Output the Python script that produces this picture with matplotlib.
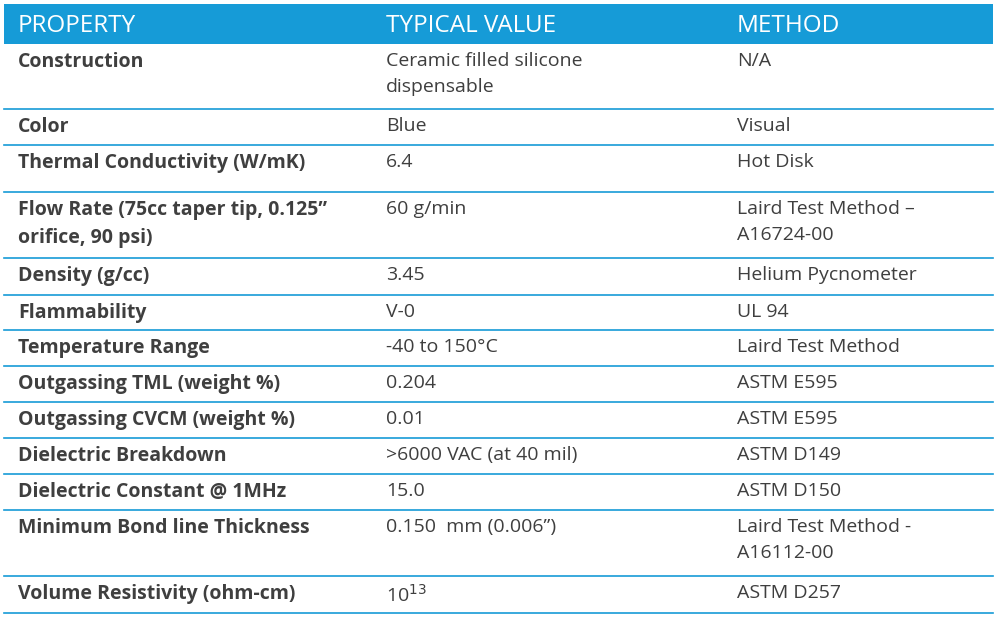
import matplotlib.pyplot as plt

headers = ["PROPERTY", "TYPICAL VALUE", "METHOD"]
properties = ["Construction", "Color", "Thermal Conductivity (W/mK)",
              "Flow Rate (75cc taper tip, 0.125\u201d\norifice, 90 psi)",
              "Density (g/cc)", "Flammability", "Temperature Range",
              "Outgassing TML (weight %)", "Outgassing CVCM (weight %)",
              "Dielectric Breakdown", "Dielectric Constant @ 1MHz",
              "Minimum Bond line Thickness", "Volume Resistivity (ohm-cm)"]
values = ["Ceramic filled silicone\ndispensable", "Blue", "6.4", "60 g/min",
          "3.45", "V-0", "-40 to 150\u00b0C", "0.204", "0.01",
          ">6000 VAC (at 40 mil)", "15.0", "0.150  mm (0.006\u201d)", "10$^{13}$"]
methods = ["N/A", "Visual", "Hot Disk", "Laird Test Method \u2013\nA16724-00",
           "Helium Pycnometer", "UL 94", "Laird Test Method", "ASTM E595",
           "ASTM E595", "ASTM D149", "ASTM D150",
           "Laird Test Method -\nA16112-00", "ASTM D257"]

# layout in pixels
W, H = 997, 618
row_edges = [44, 109, 145, 192, 258, 295, 330, 366, 402, 438, 474, 510, 576, 613]
col_x = [18, 386, 737]
blue = "#169bd7"
txt = "#3f3f3f"
font = "Open Sans"
fs = 14

fig = plt.figure(figsize=(W / 100, H / 100), dpi=100)
ax = fig.add_axes([0, 0, 1, 1])
ax.set_xlim(0, W)
ax.set_ylim(H, 0)
ax.axis("off")

ax.add_patch(plt.Rectangle((4, 4), 989, 40, color=blue, lw=0))
for x, h in zip(col_x, headers):
    ax.text(x, 26, h, color="white", fontsize=17.5, family=font, va="center")

for i in range(len(properties)):
    top = row_edges[i]
    kw = dict(color=txt, fontsize=fs, family=font, va="top", linespacing=1.55)
    ax.text(col_x[0], top + 8, properties[i], weight="bold", **kw)
    ax.text(col_x[1], top + 8, values[i], **kw)
    ax.text(col_x[2], top + 8, methods[i], **kw)
    ax.plot([4, 993], [row_edges[i + 1], row_edges[i + 1]], color=blue, lw=1.2)

fig.savefig("out.png", dpi=100)
